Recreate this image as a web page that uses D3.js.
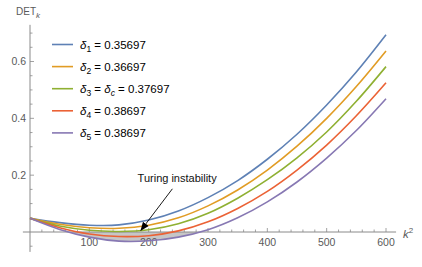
<!DOCTYPE html>
<html>
<head>
<meta charset="utf-8">
<script src="https://cdn.jsdelivr.net/npm/d3@7"></script>
<style>
  body { margin: 0; background: #fff; }
  svg { display: block; font-family: "Liberation Sans", Arial, sans-serif; }
</style>
</head>
<body>
<script>
(function(){

    //values, k^2 on the x axis
    var k2 = [0, 50, 100, 150, 200, 250, 300, 350, 400, 450, 500, 550, 600];
    var det1 = [0.048, 0.033, 0.024, 0.025, 0.042, 0.074, 0.121, 0.181, 0.256, 0.344, 0.447, 0.563, 0.694];
    var det2 = [0.048, 0.027, 0.015, 0.013, 0.024, 0.050, 0.092, 0.148, 0.218, 0.302, 0.400, 0.512, 0.637];
    var det3 = [0.048, 0.021, 0.006, 0.002, 0.008, 0.029, 0.066, 0.119, 0.184, 0.261, 0.352, 0.460, 0.582];
    var det4 = [0.048, 0.015, -0.007, -0.016, -0.013, 0.004, 0.036, 0.083, 0.143, 0.218, 0.306, 0.409, 0.525];
    var det5 = [0.048, 0.009, -0.018, -0.032, -0.031, -0.018, 0.008, 0.050, 0.106, 0.176, 0.260, 0.357, 0.469];

    var seriesNames = ["1", "2", "3", "4", "5"];
    var seriesValues = ["0.35697", "0.36697", "0.37697", "0.38697", "0.38697"];
    var colors = ["#5E81B5", "#E19C24", "#8FB032", "#EB6235", "#8778B3"];

    var xTicks = [100, 200, 300, 400, 500, 600];
    var yTicks = [0.2, 0.4, 0.6];

    var width = 422, height = 267;

    var svg = d3.select("body")
        .append("svg")
        .attr("width", width)
        .attr("height", height);

    //scales
    var x = d3.scaleLinear().domain([0, 600]).range([30, 386]);
    var y = d3.scaleLinear().domain([0, 0.6]).range([232, 61.5]);

    var allSeries = [det1, det2, det3, det4, det5].map(function(vals){
        return vals.map(function(v, i){ return [k2[i], v]; });
    });

    //grey fill where the last curve is below zero
    svg.append("clipPath")
        .attr("id", "below")
        .append("rect")
        .attr("x", x(0))
        .attr("y", y(0))
        .attr("width", x(600) - x(0))
        .attr("height", 40);

    var area = d3.area()
        .x(function(d){ return x(d[0]); })
        .y0(y(0))
        .y1(function(d){ return y(d[1]); })
        .curve(d3.curveCatmullRom.alpha(0.5));

    svg.append("path")
        .datum(allSeries[4])
        .attr("d", area)
        .attr("clip-path", "url(#below)")
        .style("fill", "#c6c6c6");

    //axes
    var axisColor = "#8a8a8a", labelColor = "#5a5a5a";

    svg.append("line")
        .attr("x1", x(-12)).attr("x2", x(617))
        .attr("y1", y(0)).attr("y2", y(0))
        .style("stroke", axisColor).style("stroke-width", 1);

    svg.append("line")
        .attr("x1", x(0)).attr("x2", x(0))
        .attr("y1", y(0.729)).attr("y2", y(-0.07))
        .style("stroke", axisColor).style("stroke-width", 1);

    //x ticks, minor every 20
    d3.range(20, 620, 20).forEach(function(t){
        var major = t % 100 === 0;
        svg.append("line")
            .attr("x1", x(t)).attr("x2", x(t))
            .attr("y1", y(0)).attr("y2", y(0) - (major ? 4 : 2.5))
            .style("stroke", axisColor).style("stroke-width", 0.8);
    });

    svg.selectAll(".xlab")
        .data(xTicks)
        .enter()
        .append("text")
        .attr("x", function(d){ return x(d); })
        .attr("y", y(0) + 14)
        .attr("text-anchor", "middle")
        .style("font-size", "10.5px")
        .style("fill", labelColor)
        .text(function(d){ return d; });

    //y ticks, minor every 0.05
    d3.range(-1, 15).forEach(function(i){
        var t = i * 0.05;
        if (i === 0) return;
        var major = i % 4 === 0;
        svg.append("line")
            .attr("x1", x(0)).attr("x2", x(0) + (major ? 4 : 2.5))
            .attr("y1", y(t)).attr("y2", y(t))
            .style("stroke", axisColor).style("stroke-width", 0.8);
    });

    svg.selectAll(".ylab")
        .data(yTicks)
        .enter()
        .append("text")
        .attr("x", x(0) - 4)
        .attr("y", function(d){ return y(d) + 3.5; })
        .attr("text-anchor", "end")
        .style("font-size", "10.5px")
        .style("fill", labelColor)
        .text(function(d){ return d.toFixed(1); });

    //axis titles
    var yTitle = svg.append("text")
        .attr("x", 16)
        .attr("y", 15)
        .style("font-size", "10px")
        .style("fill", labelColor);
    yTitle.append("tspan").text("DET");
    yTitle.append("tspan").attr("dy", 3).style("font-size", "8px").style("font-style", "italic").text("k");

    var xTitle = svg.append("text")
        .attr("x", 403)
        .attr("y", 238)
        .style("font-size", "11.5px")
        .style("fill", labelColor);
    xTitle.append("tspan").style("font-style", "italic").text("k");
    xTitle.append("tspan").attr("dy", -5).style("font-size", "8px").text("2");

    //curves
    var line = d3.line()
        .x(function(d){ return x(d[0]); })
        .y(function(d){ return y(d[1]); })
        .curve(d3.curveCatmullRom.alpha(0.5));

    svg.selectAll(".curve")
        .data(allSeries)
        .enter()
        .append("path")
        .attr("class", "curve")
        .attr("d", line)
        .style("fill", "none")
        .style("stroke", function(d, i){ return colors[i]; })
        .style("stroke-width", 1.6);

    //annotation
    svg.append("defs").append("marker")
        .attr("id", "head")
        .attr("viewBox", "0 0 10 10")
        .attr("refX", 9).attr("refY", 5)
        .attr("markerWidth", 9).attr("markerHeight", 9)
        .attr("markerUnits", "userSpaceOnUse")
        .attr("orient", "auto")
        .append("path")
        .attr("d", "M0,1 L10,5 L0,9 Z")
        .style("fill", "#000");

    svg.append("line")
        .attr("x1", x(240)).attr("y1", y(0.152))
        .attr("x2", x(187)).attr("y2", y(0.006))
        .style("stroke", "#000").style("stroke-width", 0.9)
        .attr("marker-end", "url(#head)");

    svg.append("text")
        .attr("x", x(248))
        .attr("y", y(0.177))
        .attr("text-anchor", "middle")
        .style("font-size", "11px")
        .style("fill", "#111")
        .text("Turing instability");

    //legend
    var legend = svg.selectAll(".legend")
        .data(seriesNames)
        .enter()
        .append("g")
        .attr("class", "legend")
        .attr("transform", function(d, i){ return "translate(52," + (44.5 + i * 22.1) + ")"; });

    legend.append("line")
        .attr("x1", 0).attr("x2", 21)
        .style("stroke", function(d, i){ return colors[i]; })
        .style("stroke-width", 1.6);

    var lt = legend.append("text")
        .attr("x", 28)
        .attr("y", 4)
        .style("font-size", "11.5px")
        .style("fill", "#000");

    lt.append("tspan").style("font-style", "italic").text("δ");
    lt.append("tspan").attr("dy", 3).style("font-size", "8.5px").text(function(d){ return d; });
    lt.append("tspan").attr("dy", -3).text(function(d, i){
        return i === 2 ? " = " : " = " + seriesValues[i];
    });
    lt.filter(function(d, i){ return i === 2; })
        .each(function(d, i){
            var t = d3.select(this);
            t.append("tspan").style("font-style", "italic").text("δ");
            t.append("tspan").attr("dy", 3).style("font-size", "8.5px").style("font-style", "italic").text("c");
            t.append("tspan").attr("dy", -3).text(" = " + seriesValues[2]);
        });

})();
</script>
</body>
</html>
